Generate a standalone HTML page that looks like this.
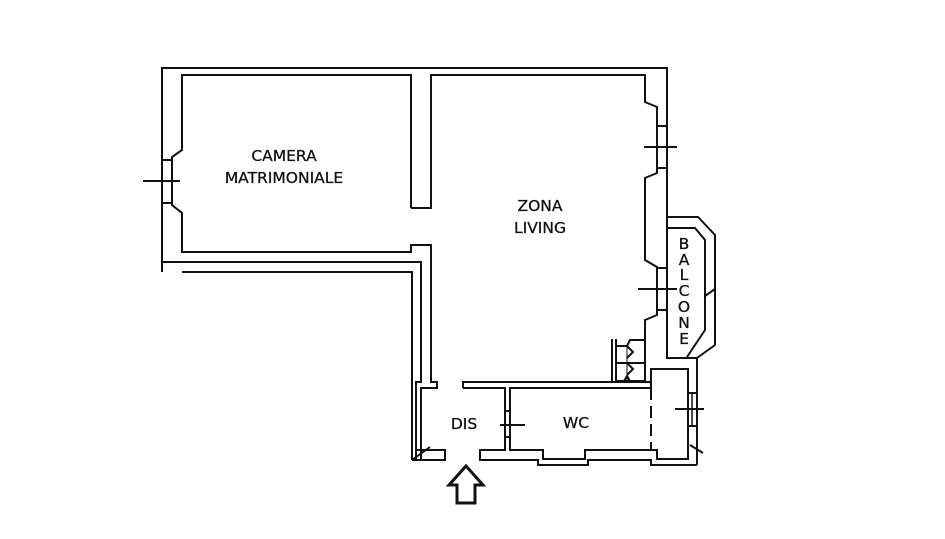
<!DOCTYPE html>
<html><head><meta charset="utf-8"><style>
html,body{margin:0;padding:0;background:#fff;}
svg{display:block;}
text{font-family:"DejaVu Sans","Liberation Sans",sans-serif;font-size:15.5px;fill:#111;stroke:#111;stroke-width:0.3;}
</style></head><body>
<svg width="945" height="539" viewBox="0 0 945 539" xmlns="http://www.w3.org/2000/svg">
<rect width="945" height="539" fill="#fff"/>
<g fill="none" stroke="#111" stroke-width="2">
<polyline points="162,272 162,68 667,68 667,358 697,358 697,465"/>
<polyline points="411,208 411,75 182,75 182,150 172,157 172,205 182,213 182,252 411,252 411,245 431,245 431,382 437,382 437,388 421,388 421,460"/>
<line x1="162" y1="160" x2="172" y2="160"/><line x1="162" y1="203" x2="172" y2="203"/>
<line x1="143" y1="181" x2="180" y2="181"/>
<polyline points="411,208 431,208 431,75 645,75 645,102 657,107 657,173 645,178 645,260 657,267 657,315 645,320 645,382"/>
<line x1="657" y1="126" x2="667" y2="126"/><line x1="657" y1="168" x2="667" y2="168"/>
<line x1="657" y1="268" x2="667" y2="268"/><line x1="657" y1="310" x2="667" y2="310"/>
<line x1="644" y1="147" x2="677" y2="147"/><line x1="638" y1="289" x2="677" y2="289"/>
<polyline points="162,262 421,262 421,382 416,382 416,460"/>
<polyline points="182,272 412,272 412,460"/>
<polyline points="416,450 445,450 445,460 412,460"/>
<line x1="412" y1="460" x2="430" y2="447"/>
<polyline points="463,388 463,382 651,382"/>
<polyline points="463,388 505,388 505,450 480,450 480,460 538,460 538,465 588,465 588,460 651,460 651,465 697,465"/>
<polyline points="651,388 510,388 510,450 543,450 543,459 585,459 585,450 657,450 657,459 688,459 688,369 651,369 651,388"/>
<line x1="505" y1="411" x2="510" y2="411"/><line x1="505" y1="437" x2="510" y2="437"/>
<line x1="500" y1="425" x2="525" y2="425"/>
<line x1="651" y1="388" x2="651" y2="450" stroke-dasharray="12,6"/>
<polyline points="688,393 697,393"/><polyline points="688,426 697,426"/>
<line x1="692" y1="393" x2="692" y2="426" stroke-width="1.5"/>
<line x1="675" y1="409" x2="704" y2="409"/>
<line x1="690" y1="445" x2="703" y2="453"/>
<polyline points="667,217 698,217 715,235 715,345 697,358"/>
<polyline points="667,228 695,228 705,240 705,330 687,357"/>
<line x1="705" y1="296" x2="715" y2="289"/>
<line x1="612" y1="339" x2="612" y2="383"/><line x1="616" y1="339" x2="616" y2="383"/>
<polyline points="645,340 630,340 627,346 616,346"/>
<polyline points="616,363 645,363"/>
<polyline points="616,381 645,381"/>
<polyline points="627,346 633,352 627,358"/>
<polyline points="627,363 633,369 627,375"/>
<line x1="627" y1="346" x2="627" y2="381" stroke-width="1"/>
<polyline points="624,381 627,376 630,381"/>
<polygon points="466,466 483,485 475,485 475,503 457,503 457,485 449,485" stroke-width="3"/>
</g>
<text x="284" y="161" text-anchor="middle">CAMERA</text>
<text x="284" y="183" text-anchor="middle">MATRIMONIALE</text>
<text x="540" y="211" text-anchor="middle">ZONA</text>
<text x="540" y="233" text-anchor="middle">LIVING</text>
<text x="464" y="429" text-anchor="middle">DIS</text>
<text x="576" y="428" text-anchor="middle">WC</text>
<g style="font-size:13px">
<text x="684" y="249" text-anchor="middle">B</text>
<text x="684" y="265" text-anchor="middle">A</text>
<text x="684" y="280" text-anchor="middle">L</text>
<text x="684" y="296" text-anchor="middle">C</text>
<text x="684" y="312" text-anchor="middle">O</text>
<text x="684" y="328" text-anchor="middle">N</text>
<text x="684" y="344" text-anchor="middle">E</text>
</g>
</svg>
</body></html>
